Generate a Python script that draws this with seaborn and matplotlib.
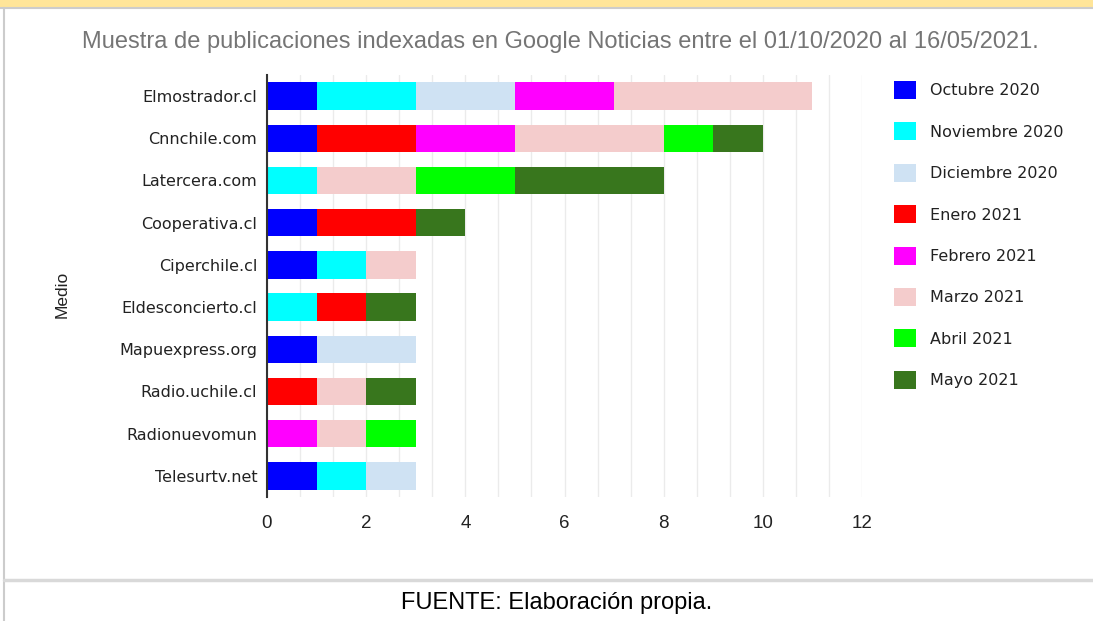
import numpy as np
import pandas as pd
import seaborn as sns
import matplotlib.pyplot as plt
from matplotlib.patches import Patch, Rectangle
from matplotlib.lines import Line2D

# datos
medios = ["Elmostrador.cl", "Cnnchile.com", "Latercera.com", "Cooperativa.cl",
          "Ciperchile.cl", "Eldesconcierto.cl", "Mapuexpress.org",
          "Radio.uchile.cl", "Radionuevomun", "Telesurtv.net"]
meses = ["Octubre 2020", "Noviembre 2020", "Diciembre 2020", "Enero 2021",
         "Febrero 2021", "Marzo 2021", "Abril 2021", "Mayo 2021"]
octubre = [1, 1, 0, 1, 1, 0, 1, 0, 0, 1]
noviembre = [2, 0, 1, 0, 1, 1, 0, 0, 0, 1]
diciembre = [2, 0, 0, 0, 0, 0, 2, 0, 0, 1]
enero = [0, 2, 0, 2, 0, 1, 0, 1, 0, 0]
febrero = [2, 2, 0, 0, 0, 0, 0, 0, 1, 0]
marzo = [4, 3, 2, 0, 1, 0, 0, 1, 1, 0]
abril = [0, 1, 2, 0, 0, 0, 0, 0, 1, 0]
mayo = [0, 1, 3, 1, 0, 1, 0, 1, 0, 0]
colores = ["#0000ff", "#00ffff", "#cfe2f3", "#ff0000",
           "#ff00ff", "#f4cccc", "#00ff00", "#38761d"]

df = pd.DataFrame([octubre, noviembre, diciembre, enero, febrero, marzo, abril, mayo],
                  index=meses, columns=medios).T
acum = df.cumsum(axis=1)  # para apilar las barras
acum["Medio"] = medios

sns.set_style("white")
plt.rcParams["font.family"] = ["Liberation Sans", "DejaVu Sans"]

fig = plt.figure(figsize=(10.93, 6.21), dpi=100)
W, H = 1093, 621
ax = fig.add_axes([267 / W, 1 - 497 / H, 595 / W, 422 / H])

# se dibuja desde el último mes hacia el primero
for mes, col in zip(meses[::-1], colores[::-1]):
    sns.barplot(data=acum, x=mes, y="Medio", order=medios, color=col,
                saturation=1, width=0.65, errorbar=None, linewidth=0, ax=ax)

ax.set_xlim(0, 12)
ax.set_ylim(9.5, -0.5)
ax.set_xticks(np.arange(0, 13, 2))
ax.set_xticks(np.arange(0, 12.01, 2 / 3), minor=True)
ax.grid(True, axis="x", which="both", color="#ebebeb", lw=1)
ax.set_axisbelow(True)
for s in ["top", "right", "bottom"]:
    ax.spines[s].set_visible(False)
ax.spines["left"].set_color("#333333")
ax.spines["left"].set_linewidth(1.5)
ax.tick_params(axis="x", which="both", length=0, pad=13, labelsize=13.5, labelcolor="#222222")
ax.tick_params(axis="y", length=0, pad=7, labelsize=11.5, labelcolor="#222222")
for t in ax.get_yticklabels():
    t.set_family("DejaVu Sans")
ax.set_xlabel("")
ax.set_ylabel("Medio", fontsize=12.5, color="#222222")
ax.yaxis.set_label_coords(-197 / 595, 0.48)

handles = [Patch(facecolor=c, edgecolor="none") for c in colores]
fig.legend(handles, meses, loc="upper left", bbox_to_anchor=(886 / W, 1 - 73 / H),
           frameon=False, borderpad=0, handlelength=1.35,
           handleheight=1.35, handletextpad=0.9, labelspacing=1.47,
           labelcolor="#222222", prop={"family": "DejaVu Sans", "size": 11.5})

fig.text(560 / W, 1 - 42 / H,
         "Muestra de publicaciones indexadas en Google Noticias entre el 01/10/2020 al 16/05/2021.",
         ha="center", va="center", fontsize=17, color="#757575")
fig.text(557 / W, 1 - 603 / H, "FUENTE: Elaboración propia.",
         ha="center", va="center", fontsize=17, color="#000000")

# marco de la página
fig.patches.append(Rectangle((0, 1 - 7 / H), 1, 7 / H, transform=fig.transFigure,
                             facecolor="#ffe599", edgecolor="none"))
fig.lines.append(Line2D([0, 1], [1 - 8 / H, 1 - 8 / H], transform=fig.transFigure,
                        color="#cccccc", lw=1.5))
fig.lines.append(Line2D([3.5 / W, 3.5 / W], [0, 1 - 8 / H], transform=fig.transFigure,
                        color="#cccccc", lw=1.5))
fig.lines.append(Line2D([3.5 / W, 1], [1 - 580 / H, 1 - 580 / H], transform=fig.transFigure,
                        color="#d9d9d9", lw=2.5))

fig.savefig("out.png", dpi=100)
